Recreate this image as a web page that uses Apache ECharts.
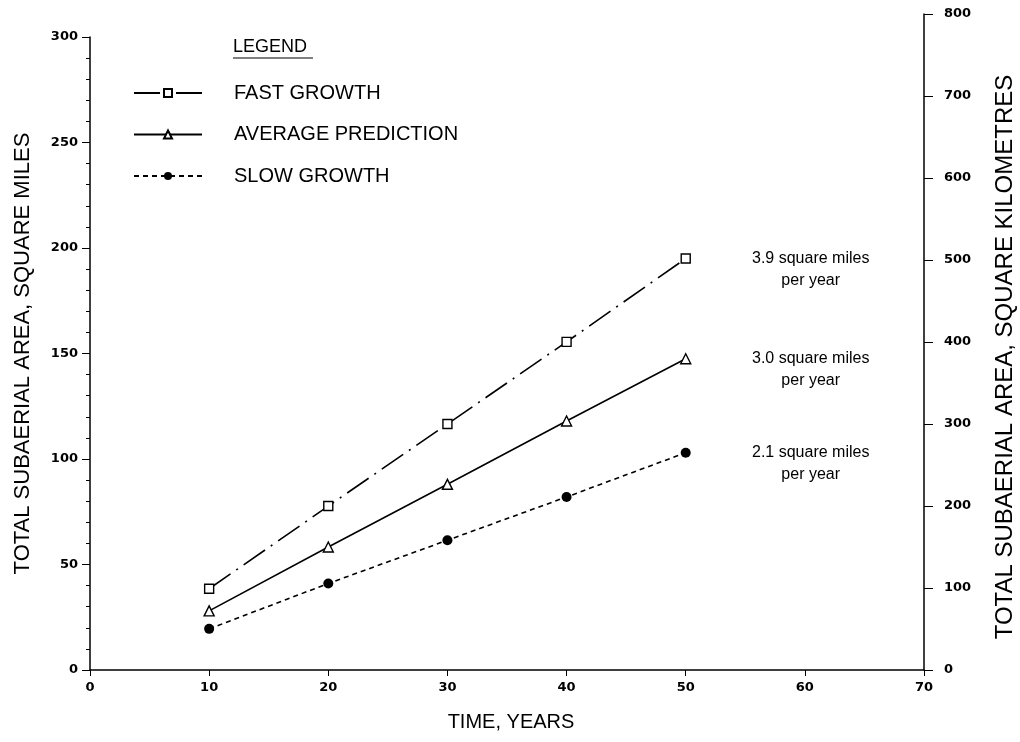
<!DOCTYPE html>
<html>
<head>
<meta charset="utf-8">
<title>Total subaerial area growth</title>
<script src="https://cdn.jsdelivr.net/npm/echarts@6/dist/echarts.min.js"></script>
<style>
  html, body { margin: 0; padding: 0; background: #fff; }
  #chart { width: 1020px; height: 742px; }
</style>
</head>
<body>
<div id="chart"></div>
<script>
// Time after start, years
const years = [10, 20, 30, 40, 50];

// Total subaerial area, square miles
const fastGrowth = [38.5, 77.7, 116.6, 155.5, 195];
const averagePrediction = [28, 58.3, 88, 118, 147.5];
const slowGrowth = [19.5, 41, 61.5, 82, 103];

// Growth rates, square miles per year
const rates = ['3.9', '3.0', '2.1'];

const seriesNames = ['FAST GROWTH', 'AVERAGE PREDICTION', 'SLOW GROWTH'];

const axisFont = 'DejaVu Sans';
const textFont = "'Liberation Sans', sans-serif";
const ink = '#000';

const pairs = v => years.map((x, i) => [x, v[i]]);

const rateLabel = rate => ({
  show: true,
  distance: 63,
  offset: [0, 11],
  formatter: '{a|' + rate + ' square miles}\n{a|per year}',
  rich: {
    a: {
      width: 124,
      align: 'center',
      fontFamily: textFont,
      fontSize: 16,
      lineHeight: 22,
      color: ink
    }
  }
});

const chart = echarts.init(document.getElementById('chart'), null, { renderer: 'canvas' });

chart.setOption({
  backgroundColor: '#fff',
  animation: false,
  grid: [
    { left: 90, right: 96, top: 37, bottom: 72, outerBoundsMode: 'none', containLabel: false },
    { left: 90, right: 96, top: 14, bottom: 72, outerBoundsMode: 'none', containLabel: false }
  ],
  legend: {
    orient: 'vertical',
    left: 133,
    top: 83,
    padding: 0,
    itemWidth: 68,
    itemHeight: 10,
    itemGap: 21.5,
    data: seriesNames,
    textStyle: {
      fontFamily: textFont,
      fontSize: 20,
      color: ink,
      padding: [0, 0, 0, 27]
    }
  },
  graphic: [
    {
      type: 'text',
      left: 233,
      top: 38,
      style: {
        text: 'LEGEND',
        font: "18px 'Liberation Sans', sans-serif",
        fill: ink
      }
    },
    {
      type: 'line',
      shape: { x1: 233, y1: 58, x2: 313, y2: 58 },
      style: { stroke: ink, lineWidth: 1.2 }
    }
  ],
  xAxis: [
    {
      gridIndex: 0,
      type: 'value',
      min: 0,
      max: 70,
      interval: 10,
      name: 'TIME, YEARS',
      nameLocation: 'middle',
      nameGap: 42,
      nameTextStyle: { fontFamily: textFont, fontSize: 20, color: ink, padding: [0, 0, 0, 8] },
      axisLine: { lineStyle: { color: ink, width: 1.5 } },
      axisTick: { show: true, inside: false, length: 6, lineStyle: { color: ink, width: 1 } },
      axisLabel: { fontFamily: axisFont, fontWeight: 'bold', fontSize: 13, color: ink, margin: 11 },
      splitLine: { show: false }
    },
    {
      gridIndex: 1,
      type: 'value',
      min: 0,
      max: 70,
      show: false
    }
  ],
  yAxis: [
    {
      gridIndex: 0,
      type: 'value',
      position: 'left',
      min: 0,
      max: 300,
      interval: 50,
      name: 'TOTAL SUBAERIAL AREA, SQUARE MILES',
      nameLocation: 'middle',
      nameGap: 56,
      nameTextStyle: { fontFamily: textFont, fontSize: 22, color: ink },
      axisLine: { show: true, onZero: false, lineStyle: { color: ink, width: 1.5 } },
      axisTick: { show: true, length: 8, lineStyle: { color: ink, width: 1 } },
      minorTick: { show: true, splitNumber: 5, length: 4, lineStyle: { color: ink, width: 1 } },
      axisLabel: { fontFamily: axisFont, fontWeight: 'bold', fontSize: 13, color: ink, margin: 12 },
      splitLine: { show: false }
    },
    {
      gridIndex: 1,
      type: 'value',
      position: 'right',
      min: 0,
      max: 800,
      interval: 100,
      name: 'TOTAL SUBAERIAL AREA, SQUARE KILOMETRES',
      nameLocation: 'middle',
      nameGap: 69,
      nameTextStyle: { fontFamily: textFont, fontSize: 24, color: ink, padding: [0, 30, 0, 0] },
      axisLine: { show: true, onZero: false, lineStyle: { color: ink, width: 1.5 } },
      axisTick: { show: true, length: 9, lineStyle: { color: ink, width: 1 } },
      axisLabel: { fontFamily: axisFont, fontWeight: 'bold', fontSize: 13, color: ink, margin: 20 },
      splitLine: { show: false }
    }
  ],
  series: [
    {
      name: seriesNames[0],
      type: 'line',
      xAxisIndex: 0,
      yAxisIndex: 0,
      data: pairs(fastGrowth),
      symbol: 'rect',
      symbolSize: 9,
      itemStyle: { color: '#fff', borderColor: ink, borderWidth: 1.4 },
      lineStyle: { color: ink, width: 1.6, type: [26, 7, 2, 7] },
      endLabel: rateLabel(rates[0]),
      z: 3
    },
    {
      name: seriesNames[1],
      type: 'line',
      xAxisIndex: 0,
      yAxisIndex: 0,
      data: pairs(averagePrediction),
      symbol: 'triangle',
      symbolSize: 10,
      itemStyle: { color: '#fff', borderColor: ink, borderWidth: 1.4 },
      lineStyle: { color: ink, width: 1.6, type: 'solid' },
      endLabel: rateLabel(rates[1]),
      z: 3
    },
    {
      name: seriesNames[2],
      type: 'line',
      xAxisIndex: 0,
      yAxisIndex: 0,
      data: pairs(slowGrowth),
      symbol: 'circle',
      symbolSize: 10,
      itemStyle: { color: ink, borderColor: ink, borderWidth: 0 },
      lineStyle: { color: ink, width: 1.6, type: [5, 4] },
      endLabel: rateLabel(rates[2]),
      z: 3
    }
  ]
});
</script>
</body>
</html>
